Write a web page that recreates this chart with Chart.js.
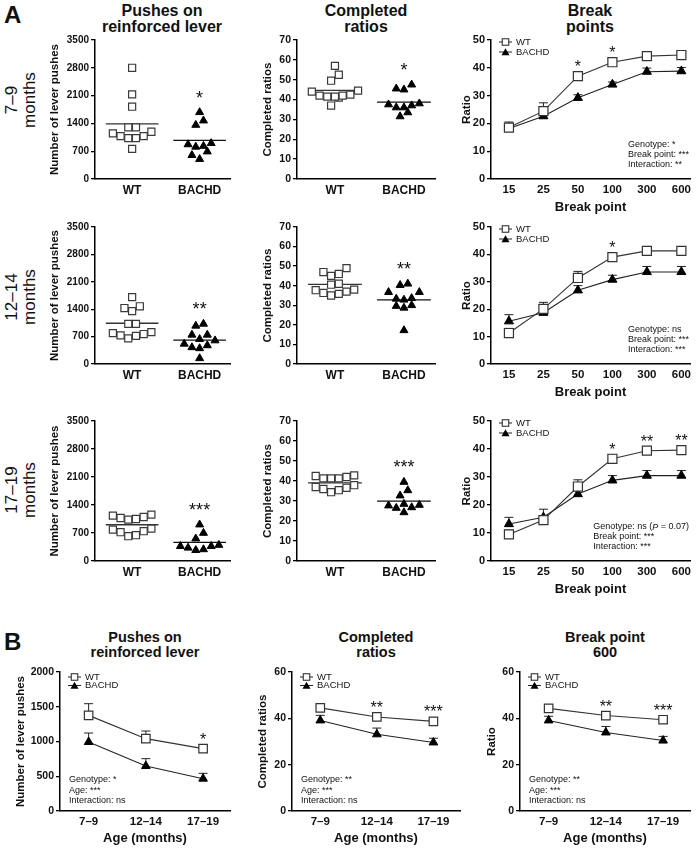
<!DOCTYPE html>
<html>
<head>
<meta charset="utf-8">
<script src="https://cdn.jsdelivr.net/npm/chart.js@4.4.1/dist/chart.umd.min.js"></script>
<style>
  body { margin: 0; background: #fff; width: 700px; height: 849px; position: relative; overflow: hidden;
         font-family: "Liberation Sans", Arial, Helvetica, sans-serif; color: #111; }
  canvas { position: absolute; }
  .title { position: absolute; font-weight: bold; font-size: 16px; line-height: 16px; text-align: center;
           white-space: nowrap; transform: translateX(-50%); }
  .titleB { font-size: 14.5px; line-height: 15px; }
  .row { position: absolute; font-size: 17px; line-height: 18px; text-align: center; white-space: nowrap;
         transform: translate(-50%, -50%) rotate(-90deg); }
  .letter { position: absolute; font-weight: bold; font-size: 24px; line-height: 28px; }
</style>
</head>
<body>
<div class="letter" style="left:4px;top:1px">A</div>
<div class="letter" style="left:4px;top:628px">B</div>

<div class="title" style="left:162px;top:3px">Pushes on<br>reinforced lever</div>
<div class="title" style="left:366px;top:3px">Completed<br>ratios</div>
<div class="title" style="left:590px;top:3px">Break<br>points</div>

<div class="row" style="left:21px;top:100px">7–9<br>months</div>
<div class="row" style="left:21px;top:297px">12–14<br>months</div>
<div class="row" style="left:21px;top:490px">17–19<br>months</div>

<div class="title titleB" style="left:145px;top:630px">Pushes on<br>reinforced lever</div>
<div class="title titleB" style="left:376px;top:630px">Completed<br>ratios</div>
<div class="title titleB" style="left:605px;top:630px">Break point<br>600</div>

<script>
// ---- categories / ticks
const groups = ['WT', 'BACHD'];
const breakPoints = ['15', '25', '50', '100', '300', '600'];
const ages = ['7–9', '12–14', '17–19'];
const pushTicks = [0, 700, 1400, 2100, 2800, 3500];
const ratioTicks = [0, 10, 20, 30, 40, 50, 60, 70];
const breakTicks = [0, 10, 20, 30, 40, 50];
const agePushTicks = [0, 500, 1000, 1500, 2000];
const ageRatioTicks = [0, 20, 40, 60];

// ---- A: pushes on reinforced lever, one value per mouse
const pushesWT79 = [2800, 2130, 1820, 1300, 1300, 1190, 1080, 1030, 1030, 1080, 1150, 760];
const pushesBACHD79 = [1680, 1470, 1360, 900, 690, 830, 870, 810, 600, 500];
const pushesWT1214 = [1710, 1475, 1350, 1430, 1025, 1025, 790, 730, 655, 720, 765, 815];
const pushesBACHD1214 = [975, 1025, 745, 635, 745, 515, 425, 475, 400, 600, 145];
const pushesWT1719 = [1160, 1100, 1050, 1035, 1075, 1135, 785, 720, 620, 645, 745, 810];
const pushesBACHD1719 = [910, 700, 560, 370, 330, 270, 290, 370, 400];

// ---- A: completed ratios
const ratiosWT79 = [57, 52.5, 49.5, 44.5, 44, 42, 41.5, 42.5, 42, 41, 41.5, 37];
const ratiosBACHD79 = [47.5, 45, 45.5, 37.5, 36, 38, 37, 36, 31.5, 33.5];
const ratiosWT1214 = [49, 46, 45, 47, 41, 40.5, 37.7, 36.3, 35, 35.8, 37, 38];
const ratiosBACHD1214 = [40.3, 41, 36.7, 36.7, 33.6, 32.8, 33.3, 29.6, 28.7, 30, 17.2];
const ratiosWT1719 = [42.8, 42, 41.3, 41.3, 41.3, 42.5, 37, 36, 34.4, 35.4, 36.6, 37.9];
const ratiosBACHD1719 = [39.5, 35.3, 32.7, 28, 26.8, 24.3, 26.5, 27.7, 28.5];

// ---- A: break points (mean and SEM)
const breakWT79 = [18.5, 24.4, 37, 42, 44.2, 44.6];
const breakWT79Sem = [2, 3, 0.8, 1, 0.8, 0.8];
const breakBACHD79 = [18.2, 22.6, 29.2, 34, 38.6, 38.8];
const breakBACHD79Sem = [1.2, 0.8, 1.1, 0.9, 1.3, 1.3];
const breakWT1214 = [11.3, 20.1, 31.4, 39, 41.3, 41.3];
const breakWT1214Sem = [1.7, 2.4, 2.4, 1.2, 0.8, 0.8];
const breakBACHD1214 = [15.6, 18.7, 26.9, 30.8, 33.6, 33.6];
const breakBACHD1214Sem = [2.4, 1.6, 1.7, 1.6, 2, 2];
const breakWT1719 = [9.5, 14.6, 26.6, 36.5, 39.4, 39.6];
const breakWT1719Sem = [1.5, 1.4, 2.4, 1.5, 0.8, 0.8];
const breakBACHD1719 = [13.2, 15.6, 23.9, 28.8, 30.5, 30.5];
const breakBACHD1719Sem = [2.4, 2.9, 1.3, 1.7, 1.8, 1.8];
const breakSig79 = ['', '', '*', '*', '', ''];
const breakSig1214 = ['', '', '', '*', '', ''];
const breakSig1719 = ['', '', '', '*', '**', '**'];
const breakStats79 = ['Genotype: *', 'Break point: ***', 'Interaction: **'];
const breakStats1214 = ['Genotype: ns', 'Break point: ***', 'Interaction: ***'];
const breakStats1719 = ['Genotype: ns (_P_ = 0.07)', 'Break point: ***', 'Interaction: ***'];

// ---- B: by age (mean and SEM)
const agePushesWT = [1376, 1041, 897];
const agePushesWTSem = [168, 110, 33];
const agePushesBACHD = [993, 647, 465];
const agePushesBACHDSem = [129, 106, 77];
const ageRatiosWT = [44.5, 40.6, 38.7];
const ageRatiosWTSem = [0.8, 0.8, 0.6];
const ageRatiosBACHD = [39.1, 33.1, 29.6];
const ageRatiosBACHDSem = [2.2, 2.7, 1.8];
const ageBreakWT = [44.3, 41.2, 39.4];
const ageBreakWTSem = [0.7, 0.8, 0.6];
const ageBreakBACHD = [39.1, 33.9, 30.4];
const ageBreakBACHDSem = [1.8, 2.6, 1.8];
const agePushSig = ['', '', '*'];
const ageRatioSig = ['', '**', '***'];
const ageBreakSig = ['', '**', '***'];
const agePushStats = ['Genotype: *', 'Age: ***', 'Interaction: ns'];
const ageRatioStats = ['Genotype: **', 'Age: ***', 'Interaction: ns'];
const ageBreakStats = ['Genotype: **', 'Age: ***', 'Interaction: ns'];

// ---- layout (plot areas in page pixels)
const colA = [{l: 95, r: 230, tx: 55}, {l: 297, r: 435, tx: 268}, {l: 491, r: 690, tx: 467}];
const rowA = [{t: 40, b: 179}, {t: 227, b: 364}, {t: 421, b: 561}];
const colB = [{l: 60, r: 230, tx: 21}, {l: 292, r: 460, tx: 263}, {l: 520, r: 690, tx: 492}];
const rowB = {t: 672, b: 811};

const FONT = '"Liberation Sans", Arial, Helvetica, sans-serif';
Chart.defaults.font.family = FONT;
Chart.defaults.color = '#111';
Chart.defaults.animation = false;
Chart.defaults.plugins.legend.display = false;
Chart.defaults.plugins.tooltip.enabled = false;

function mean(a) { return a.reduce((s, v) => s + v, 0) / a.length; }

// spread points that would overlap sideways, lowest in the middle (like prism does)
function swarm(values, center, pxPerY, pxPerX) {
  const step = 7.7 / pxPerX, gap = 8 / pxPerY;
  const sorted = values.slice().sort((a, b) => a - b);
  const bins = [];
  sorted.forEach(v => {
    const last = bins[bins.length - 1];
    if (last && v - last[0] < gap) last.push(v); else bins.push([v]);
  });
  const pts = [];
  bins.forEach(bin => {
    const n = bin.length, slots = [];
    for (let k = 0; k < n; k++) slots.push((k - (n - 1) / 2) * step);
    slots.sort((a, b) => Math.abs(a) - Math.abs(b) || a - b);
    bin.forEach((v, k) => pts.push({x: center + slots[k], y: v}));
  });
  return pts;
}

function drawRich(ctx, str, x, y, size) {
  str.split('_').forEach((part, k) => {
    ctx.font = (k % 2 ? 'italic ' : '') + size + 'px ' + FONT;
    ctx.fillText(part, x, y);
    x += ctx.measureText(part).width;
  });
}
function richWidth(ctx, str, size) {
  let w = 0;
  str.split('_').forEach((part, k) => {
    ctx.font = (k % 2 ? 'italic ' : '') + size + 'px ' + FONT;
    w += ctx.measureText(part).width;
  });
  return w;
}

function drawSquare(ctx, x, y, s) {
  ctx.fillStyle = '#fff'; ctx.strokeStyle = '#333'; ctx.lineWidth = 1.1;
  ctx.fillRect(x - s / 2, y - s / 2, s, s); ctx.strokeRect(x - s / 2, y - s / 2, s, s);
}
function drawTriangle(ctx, x, y, w) {
  const h = w * 0.87;
  ctx.fillStyle = '#000';
  ctx.beginPath(); ctx.moveTo(x, y - h * 0.6); ctx.lineTo(x + w / 2, y + h * 0.4); ctx.lineTo(x - w / 2, y + h * 0.4);
  ctx.closePath(); ctx.fill();
}

// error bars, stars, stats block and the little legend
const extras = {
  id: 'extras',
  beforeDatasetsDraw(chart, args, o) {
    if (!o.sems) return;
    const ctx = chart.ctx, xs = chart.scales.x, ys = chart.scales.y;
    ctx.save();
    ctx.strokeStyle = '#222'; ctx.lineWidth = 1;
    o.sems.forEach((sem, d) => {
      chart.data.datasets[d].data.forEach((p, i) => {
        const x = xs.getPixelForValue(p.x), y0 = ys.getPixelForValue(p.y), y1 = ys.getPixelForValue(p.y + sem[i]);
        ctx.beginPath();
        ctx.moveTo(x, y0); ctx.lineTo(x, y1);
        ctx.moveTo(x - 4.5, y1); ctx.lineTo(x + 4.5, y1);
        ctx.stroke();
      });
    });
    ctx.restore();
  },
  afterDatasetsDraw(chart, args, o) {
    const ctx = chart.ctx, a = chart.chartArea, xs = chart.scales.x, ys = chart.scales.y;
    ctx.save();
    ctx.fillStyle = '#111';
    ctx.textAlign = 'center'; ctx.textBaseline = 'alphabetic';
    (o.stars || []).forEach(s => {
      ctx.font = s.size + 'px ' + FONT;
      const cy = ys.getPixelForValue(s.y) - s.gap;
      ctx.fillText(s.text, xs.getPixelForValue(s.x), cy + s.size * 0.57);
    });
    if (o.stats) {
      ctx.textAlign = 'left'; ctx.textBaseline = 'middle'; ctx.fillStyle = '#111';
      const n = o.stats.length;
      let x0 = a.left + 9;
      if (o.statsSide === 'right') {
        const w = Math.max(...o.stats.map(s => richWidth(ctx, s, o.statsSize)));
        x0 = a.right - w - 1;
      }
      o.stats.forEach((s, i) => {
        drawRich(ctx, s, x0, a.bottom - o.statsBottom - (n - 1 - i) * o.statsGap, o.statsSize);
      });
    }
    if (o.legend) {
      const mx = a.left + 14.5, tx = a.left + 25;
      const ys2 = [a.top + o.legend, a.top + o.legend + (o.legend > 3 ? 8.5 : 10)];
      ctx.strokeStyle = '#222'; ctx.lineWidth = 1;
      ys2.forEach(y => { ctx.beginPath(); ctx.moveTo(mx - 6.5, y); ctx.lineTo(mx + 6.5, y); ctx.stroke(); });
      drawSquare(ctx, mx, ys2[0], 6.5);
      drawTriangle(ctx, mx, ys2[1] + 0.5, 8);
      ctx.fillStyle = '#111'; ctx.font = '9.5px ' + FONT; ctx.textAlign = 'left'; ctx.textBaseline = 'middle';
      ctx.fillText('WT', tx, ys2[0]);
      ctx.fillText('BACHD', tx, ys2[1]);
    }
    ctx.restore();
  }
};
Chart.register(extras);

function makeCanvas(box, yw, xh) {
  const c = document.createElement('canvas');
  const w = box.r - box.l + yw + 12, h = box.b - box.t + xh + 12;
  c.width = w; c.height = h;
  c.style.left = (box.l - yw - 2) + 'px';
  c.style.top = (box.t - 10) + 'px';
  document.body.appendChild(c);
  return c;
}

function yAxis(ticks, title, yw, tickSize) {
  return {
    type: 'linear', position: 'left',
    min: ticks[0], max: ticks[ticks.length - 1],
    afterBuildTicks: s => { s.ticks = ticks.map(v => ({value: v})); },
    afterFit: s => { s.width = yw; },
    grid: {drawOnChartArea: false, drawTicks: true, tickLength: 4, color: '#000', lineWidth: 1.3},
    border: {display: true, color: '#000', width: 1.5},
    ticks: {font: {size: tickSize, weight: 'bold'}, padding: 2, color: '#111', callback: v => String(v)},
    title: {display: true, text: title, font: {size: 11.5, weight: 'bold'}, padding: 0, color: '#111'}
  };
}
function xAxis(min, max, labels, xh, title, tickSize) {
  return {
    type: 'linear', position: 'bottom', min, max,
    afterBuildTicks: s => { s.ticks = labels.map((l, i) => ({value: i})); },
    afterFit: s => { s.height = xh; },
    grid: {display: false, drawTicks: false},
    border: {display: true, color: '#000', width: 1.5},
    ticks: {font: {size: tickSize, weight: 'bold'}, padding: 4, color: '#111', maxRotation: 0, autoSkip: false,
            callback: v => labels[v]},
    title: title ? {display: true, text: title, font: {size: 13, weight: 'bold'}, padding: 0, color: '#111'}
                 : {display: false}
  };
}

function dotPlot(col, row, wt, bachd, ticks, yTitle, tickSize, sig) {
  const box = {l: col.l, r: col.r, t: row.t, b: row.b};
  const yw = col.l - (col.tx - 7);
  const canvas = makeCanvas(box, yw, 24);
  const ymax = ticks[ticks.length - 1];
  const pxY = (box.b - box.t) / ymax, pxX = (box.r - box.l) / 2;
  const mWT = mean(wt), mB = mean(bachd);
  new Chart(canvas, {
    type: 'scatter',
    data: {datasets: [
      {data: swarm(wt, 0, pxY, pxX), pointStyle: 'rect', pointRadius: 5, backgroundColor: '#fff',
       borderColor: '#3a3a3a', borderWidth: 1.2},
      {data: swarm(bachd, 1, pxY, pxX), pointStyle: 'triangle', pointRadius: 4.6, backgroundColor: '#000',
       borderColor: '#000', borderWidth: 1},
      {data: [{x: -0.39, y: mWT}, {x: 0.39, y: mWT}], showLine: true, pointRadius: 0, borderColor: '#333', borderWidth: 1.3},
      {data: [{x: 0.61, y: mB}, {x: 1.39, y: mB}], showLine: true, pointRadius: 0, borderColor: '#111', borderWidth: 1.3}
    ]},
    options: {
      responsive: false, devicePixelRatio: 1,
      layout: {padding: {left: 2, top: 10, right: 10, bottom: 2}},
      scales: {x: xAxis(-0.55, 1.45, groups, 24, null, 12), y: yAxis(ticks, yTitle, yw, tickSize)},
      plugins: {extras: {stars: [{x: 1, y: Math.max(...bachd), gap: 19, text: sig, size: 18}]}}
    }
  });
}

function meanPlot(c) {
  const box = {l: c.col.l, r: c.col.r, t: c.row.t, b: c.row.b};
  const yw = c.col.l - (c.col.tx - 7);
  const canvas = makeCanvas(box, yw, c.xh);
  const pts = arr => arr.map((v, i) => ({x: i, y: v}));
  const stars = [];
  c.sig.forEach((s, i) => {
    if (s) stars.push({x: i, y: c.wt[i], gap: 0, text: s, size: 16, sem: c.wtSem[i]});
  });
  new Chart(canvas, {
    type: 'scatter',
    data: {datasets: [
      {data: pts(c.wt), showLine: true, borderColor: '#333', borderWidth: 1.1, pointStyle: 'rect', pointRadius: c.sq,
       pointBackgroundColor: '#fff', pointBorderColor: '#333', pointBorderWidth: 1.2},
      {data: pts(c.bachd), showLine: true, borderColor: '#222', borderWidth: 1.1, pointStyle: 'triangle', pointRadius: c.tri,
       pointBackgroundColor: '#000', pointBorderColor: '#000', pointBorderWidth: 1}
    ]},
    options: {
      responsive: false, devicePixelRatio: 1,
      layout: {padding: {left: 2, top: 10, right: 10, bottom: 2}},
      scales: {x: xAxis(c.xMin, c.xMax, c.labels, c.xh, c.xTitle, c.xTickSize),
               y: yAxis(c.ticks, c.yTitle, yw, c.yTickSize)},
      plugins: {extras: {sems: [c.wtSem, c.bachdSem], stars: stars, stats: c.stats, statsSide: c.statsSide,
                         statsSize: c.statsSize, statsGap: c.statsGap, statsBottom: c.statsBottom, legend: c.legend}}
    },
    plugins: [{
      id: 'starGap',
      beforeDraw(chart) {
        // put each star just above the marker / its error bar
        const ys = chart.scales.y;
        chart.options.plugins.extras.stars.forEach(s => {
          const p = ys.getPixelForValue(s.y), e = ys.getPixelForValue(s.y + s.sem);
          s.gap = Math.max(13, p - e + 7);
        });
      }
    }]
  });
}

// ---- panel A
dotPlot(colA[0], rowA[0], pushesWT79, pushesBACHD79, pushTicks, 'Number of lever pushes', 10, '*');
dotPlot(colA[0], rowA[1], pushesWT1214, pushesBACHD1214, pushTicks, 'Number of lever pushes', 10, '**');
dotPlot(colA[0], rowA[2], pushesWT1719, pushesBACHD1719, pushTicks, 'Number of lever pushes', 10, '***');
dotPlot(colA[1], rowA[0], ratiosWT79, ratiosBACHD79, ratioTicks, 'Completed ratios', 10.5, '*');
dotPlot(colA[1], rowA[1], ratiosWT1214, ratiosBACHD1214, ratioTicks, 'Completed ratios', 10.5, '**');
dotPlot(colA[1], rowA[2], ratiosWT1719, ratiosBACHD1719, ratioTicks, 'Completed ratios', 10.5, '***');

const breakRows = [
  [breakWT79, breakWT79Sem, breakBACHD79, breakBACHD79Sem, breakSig79, breakStats79],
  [breakWT1214, breakWT1214Sem, breakBACHD1214, breakBACHD1214Sem, breakSig1214, breakStats1214],
  [breakWT1719, breakWT1719Sem, breakBACHD1719, breakBACHD1719Sem, breakSig1719, breakStats1719]
];
breakRows.forEach((r, k) => {
  meanPlot({col: colA[2], row: rowA[k], labels: breakPoints, xMin: -0.52, xMax: 5.25, xh: 36,
            wt: r[0], wtSem: r[1], bachd: r[2], bachdSem: r[3], sig: r[4], stats: r[5],
            ticks: breakTicks, yTitle: 'Ratio', xTitle: 'Break point', yTickSize: 11, xTickSize: 11.5,
            sq: 6.4, tri: 5.2, statsSide: 'right', statsSize: 9, statsGap: 10, statsBottom: 14, legend: 2});
});

// ---- panel B
const ageCols = [
  [agePushesWT, agePushesWTSem, agePushesBACHD, agePushesBACHDSem, agePushSig, agePushStats, agePushTicks, 'Number of lever pushes'],
  [ageRatiosWT, ageRatiosWTSem, ageRatiosBACHD, ageRatiosBACHDSem, ageRatioSig, ageRatioStats, ageRatioTicks, 'Completed ratios'],
  [ageBreakWT, ageBreakWTSem, ageBreakBACHD, ageBreakBACHDSem, ageBreakSig, ageBreakStats, ageRatioTicks, 'Ratio']
];
ageCols.forEach((r, k) => {
  meanPlot({col: colB[k], row: rowB, labels: ages, xMin: -0.5, xMax: 2.47, xh: 35,
            wt: r[0], wtSem: r[1], bachd: r[2], bachdSem: r[3], sig: r[4], stats: r[5],
            ticks: r[6], yTitle: r[7], xTitle: 'Age (months)', yTickSize: 10.5, xTickSize: 11.5,
            sq: 6, tri: 5, statsSide: 'left', statsSize: 9, statsGap: 10.7, statsBottom: 10, legend: 5});
});
</script>
</body>
</html>
